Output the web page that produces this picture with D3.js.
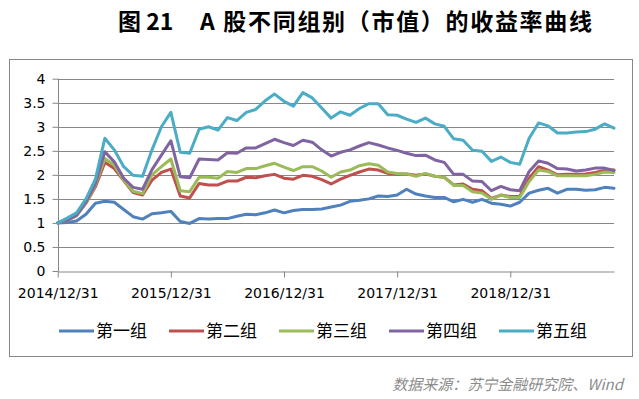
<!DOCTYPE html>
<html>
<head>
<meta charset="utf-8">
<script src="https://cdn.jsdelivr.net/npm/d3@7/dist/d3.min.js"></script>
<style>
  body { margin: 0; background: #fff; }
  svg { display: block; }
</style>
</head>
<body>
<div class="svg-container"></div>
<script>
// month ends, Dec 2014 - Nov 2019
var months = [
  "2014/12/31",
  "2015/01/31","2015/02/28","2015/03/31","2015/04/30","2015/05/31","2015/06/30",
  "2015/07/31","2015/08/31","2015/09/30","2015/10/31","2015/11/30","2015/12/31",
  "2016/01/31","2016/02/29","2016/03/31","2016/04/30","2016/05/31","2016/06/30",
  "2016/07/31","2016/08/31","2016/09/30","2016/10/31","2016/11/30","2016/12/31",
  "2017/01/31","2017/02/28","2017/03/31","2017/04/30","2017/05/31","2017/06/30",
  "2017/07/31","2017/08/31","2017/09/30","2017/10/31","2017/11/30","2017/12/31",
  "2018/01/31","2018/02/28","2018/03/31","2018/04/30","2018/05/31","2018/06/30",
  "2018/07/31","2018/08/31","2018/09/30","2018/10/31","2018/11/30","2018/12/31",
  "2019/01/31","2019/02/28","2019/03/31","2019/04/30","2019/05/31","2019/06/30",
  "2019/07/31","2019/08/31","2019/09/30","2019/10/31","2019/11/30"
];
var xTickLabels = ["2014/12/31","2015/12/31","2016/12/31","2017/12/31","2018/12/31"];
var yTicks = [0, 0.5, 1, 1.5, 2, 2.5, 3, 3.5, 4];

var group1 = [1.00,1.01,1.04,1.18,1.41,1.45,1.43,1.28,1.13,1.08,1.19,1.21,1.24,
  1.03,0.99,1.09,1.08,1.09,1.09,1.14,1.18,1.17,1.21,1.27,1.21,
  1.26,1.28,1.28,1.29,1.33,1.37,1.45,1.47,1.50,1.56,1.55,1.58,
  1.70,1.60,1.56,1.53,1.53,1.44,1.49,1.43,1.49,1.41,1.39,1.35,
  1.43,1.62,1.68,1.72,1.62,1.70,1.70,1.68,1.69,1.74,1.72];
var group2 = [1.00,1.05,1.15,1.41,1.75,2.26,2.13,1.88,1.63,1.58,1.89,2.05,2.12,
  1.56,1.52,1.82,1.79,1.79,1.87,1.87,1.95,1.94,1.98,2.01,1.93,
  1.91,1.99,1.97,1.90,1.81,1.91,1.99,2.06,2.12,2.10,2.03,2.02,
  2.02,1.99,2.02,1.97,1.95,1.79,1.81,1.70,1.67,1.51,1.58,1.55,
  1.55,1.93,2.17,2.10,2.00,2.01,2.01,2.02,2.05,2.09,2.10];
var group3 = [1.00,1.06,1.15,1.42,1.79,2.34,2.20,1.89,1.66,1.61,2.00,2.17,2.33,
  1.67,1.65,1.95,1.95,1.93,2.07,2.05,2.13,2.13,2.19,2.24,2.16,
  2.09,2.17,2.17,2.08,1.95,2.06,2.10,2.19,2.23,2.20,2.06,2.03,
  2.02,1.97,2.03,1.97,1.95,1.78,1.78,1.65,1.62,1.49,1.58,1.53,
  1.53,1.86,2.10,2.07,1.98,1.98,1.98,1.98,2.01,2.06,2.05];
var group4 = [1.00,1.06,1.16,1.44,1.82,2.48,2.27,1.93,1.74,1.70,2.11,2.41,2.71,
  1.96,1.94,2.33,2.32,2.31,2.46,2.45,2.56,2.56,2.65,2.74,2.67,
  2.61,2.72,2.68,2.52,2.39,2.47,2.52,2.60,2.67,2.62,2.56,2.51,
  2.45,2.40,2.41,2.31,2.26,2.01,2.01,1.87,1.86,1.67,1.76,1.69,
  1.67,2.07,2.29,2.24,2.13,2.12,2.08,2.10,2.14,2.14,2.09];
var group5 = [1.00,1.10,1.21,1.50,1.91,2.76,2.52,2.17,1.99,1.97,2.52,3.00,3.30,
  2.47,2.45,2.95,3.00,2.93,3.19,3.13,3.30,3.36,3.54,3.68,3.53,
  3.43,3.71,3.60,3.39,3.18,3.31,3.24,3.38,3.48,3.48,3.25,3.24,
  3.16,3.09,3.18,3.06,3.01,2.75,2.72,2.51,2.49,2.28,2.37,2.26,
  2.22,2.76,3.08,3.02,2.87,2.87,2.89,2.90,2.95,3.06,2.97];

var seriesNames = ["第一组","第二组","第三组","第四组","第五组"];
var seriesValues = [group1, group2, group3, group4, group5];
var colors = ["#4F81BD","#C0504D","#9BBB59","#8064A2","#4BACC6"];

var width = 639, height = 399;
var gridColor = "#878787";
var latin = "'DejaVu Sans', sans-serif";
var cjk = "'Noto Sans CJK SC', sans-serif";

var svg = d3.select(".svg-container").append("svg")
  .attr("width", width)
  .attr("height", height);

// title
svg.append("text")
  .attr("x", 118).attr("y", 30)
  .style("font-family", cjk).style("font-weight", "700").style("font-size", "23px")
  .text("图 21");
svg.append("text")
  .attr("x", 200).attr("y", 30)
  .attr("textLength", 392).attr("lengthAdjust", "spacing")
  .style("font-family", cjk).style("font-weight", "700").style("font-size", "23px")
  .text("A 股不同组别（市值）的收益率曲线");

// chart border
svg.append("rect")
  .attr("x", 9.5).attr("y", 59.5)
  .attr("width", 623).attr("height", 297)
  .attr("fill", "none").attr("stroke", gridColor);

// scales
var x = d3.scalePoint().domain(months).range([57.7, 614]);
var y = d3.scaleLinear().domain([0, 4]).range([271, 78.7]);

// gridlines
svg.append("g")
  .selectAll("line")
  .data(yTicks.filter(function(d){ return d > 0; }))
  .enter().append("line")
  .attr("x1", 57.7).attr("x2", 614)
  .attr("y1", function(d){ return Math.round(y(d)) + 0.5; })
  .attr("y2", function(d){ return Math.round(y(d)) + 0.5; })
  .style("stroke", gridColor);

// Y axis
var yAxis = svg.append("g")
  .attr("transform", "translate(" + (Math.round(57.7) + 0.5) + ",0)")
  .call(d3.axisLeft(y).tickValues(yTicks).tickSize(6).tickPadding(7)
    .tickFormat(function(d){ return d3.format("")(d); }));

// X axis
var xAxis = svg.append("g")
  .attr("transform", "translate(0," + (Math.round(271) + 0.5) + ")")
  .call(d3.axisBottom(x).tickValues(xTickLabels).tickSize(6).tickPadding(11).tickSizeOuter(0));

[yAxis, xAxis].forEach(function(g){
  g.select(".domain").style("stroke", gridColor);
  g.selectAll(".tick line").style("stroke", gridColor);
  g.selectAll("text")
    .style("font-family", latin).style("font-size", "14px").style("fill", "#000");
});
yAxis.select(".domain").attr("d", "M0," + y(4) + "V" + y(0));

// lines
var line = d3.line()
  .x(function(d, i){ return x(months[i]); })
  .y(function(d){ return y(d); });

seriesValues.forEach(function(vals, k){
  svg.append("path")
    .datum(vals)
    .attr("d", line)
    .attr("fill", "none")
    .attr("stroke", colors[k])
    .attr("stroke-width", 3)
    .attr("stroke-linejoin", "round")
    .attr("stroke-linecap", "round");
});

// legend
var legend = svg.append("g").selectAll("g")
  .data(seriesNames)
  .enter().append("g")
  .attr("transform", function(d, i){ return "translate(" + (59 + i * 110) + ",331)"; });
legend.append("line")
  .attr("x1", 0).attr("x2", 35)
  .attr("stroke", function(d, i){ return colors[i]; })
  .attr("stroke-width", 3);
legend.append("text")
  .attr("x", 37).attr("y", 6)
  .style("font-family", cjk).style("font-size", "17px")
  .text(function(d){ return d; });

// source
svg.append("text")
  .attr("x", 623).attr("y", 390)
  .attr("text-anchor", "end")
  .style("font-family", cjk).style("font-style", "italic").style("font-size", "15px")
  .style("fill", "#8c8c8c")
  .text("数据来源：苏宁金融研究院、Wind");
</script>
</body>
</html>
